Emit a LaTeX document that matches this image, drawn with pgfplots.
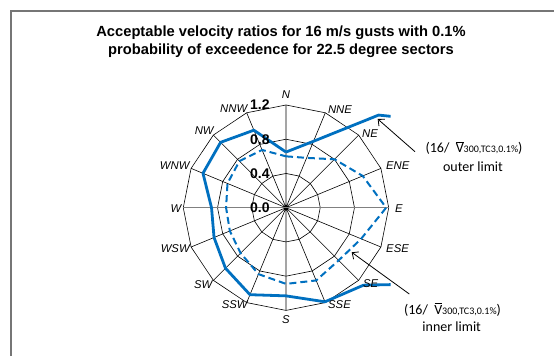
\documentclass[border=0pt]{standalone}
\usepackage{pgfplots}
\pgfplotsset{compat=1.18}
\usepackage{pgfplotstable}
\usepackage{fontspec}
\setmainfont{Liberation Sans}
\newfontfamily\calibri{Carlito}
\usetikzlibrary{arrows.meta}
\definecolor{xlblue}{HTML}{0070C0}
\definecolor{framegray}{HTML}{767676}
\newcommand{\vbar}{\makebox[0pt][l]{\hspace{0.3pt}\raisebox{10.6pt}{\rule{7.6pt}{0.7pt}}}V}

% outer limit (solid)
\pgfplotstableread{
a r
0 0.65
22.5 0.84
45 1.53
67.5 2.5
90 2.4
112.5 2.3
135 1.28
157.5 1.19
180 1.03
202.5 1.10
225 1.00
247.5 0.91
270 0.87
292.5 1.05
315 1.08
337.5 0.98
360 0.65
}\outerdata

% inner limit (dashed)
\pgfplotstableread{
a r
0 0.60
22.5 0.63
45 0.80
67.5 0.97
90 1.17
112.5 0.95
135 0.87
157.5 0.92
180 0.89
202.5 0.84
225 0.75
247.5 0.71
270 0.70
292.5 0.74
315 0.77
337.5 0.73
360 0.60
}\innerdata

% grid ring angles (unit radius)
\pgfplotstableread{
a r
0 1
22.5 1
45 1
67.5 1
90 1
112.5 1
135 1
157.5 1
180 1
202.5 1
225 1
247.5 1
270 1
292.5 1
315 1
337.5 1
360 1
}\ringdata

% spokes (star path)
\pgfplotstableread{
a r
0 1.2
0 0
22.5 1.2
22.5 0
45 1.2
45 0
67.5 1.2
67.5 0
90 1.2
90 0
112.5 1.2
112.5 0
135 1.2
135 0
157.5 1.2
157.5 0
180 1.2
180 0
202.5 1.2
202.5 0
225 1.2
225 0
247.5 1.2
247.5 0
270 1.2
270 0
292.5 1.2
292.5 0
315 1.2
315 0
337.5 1.2
337.5 0
}\spokedata

\begin{document}
\begin{tikzpicture}[x=1pt,y=1pt]
\draw[framegray, line width=1.5pt] (11,0) -- (11,345) -- (554,345);
\node[font=\bfseries\fontsize{14.7}{18}\selectfont, align=center] at (281,314)
  {Acceptable velocity ratios for 16 m/s gusts with 0.1\%\\probability of exceedence for 22.5 degree sectors};
\begin{axis}[
  at={(161.88pt,24.18pt)}, anchor=south west,
  x=85.6pt, y=85.6pt,
  xmin=-1.45, xmax=1.223, ymin=-1.45, ymax=1.45,
  hide axis, clip mode=individual,
]
\addplot[black, line width=0.6pt, no marks] table[x expr={0.4*\thisrow{r}*sin(\thisrow{a})}, y expr={0.4*\thisrow{r}*cos(\thisrow{a})}] \ringdata;
\addplot[black, line width=0.6pt, no marks] table[x expr={0.8*\thisrow{r}*sin(\thisrow{a})}, y expr={0.8*\thisrow{r}*cos(\thisrow{a})}] \ringdata;
\addplot[black, line width=0.6pt, no marks] table[x expr={1.2*\thisrow{r}*sin(\thisrow{a})}, y expr={1.2*\thisrow{r}*cos(\thisrow{a})}] \ringdata;
\addplot[black, line width=0.6pt, no marks] table[x expr={\thisrow{r}*sin(\thisrow{a})}, y expr={\thisrow{r}*cos(\thisrow{a})}] \spokedata;
\addplot[gray, line width=1.3pt, no marks] coordinates {(-1.2,0) (1.2,0)};

\addplot[xlblue, line width=2pt, dash pattern=on 7pt off 4pt, no marks] table[x expr={\thisrow{r}*sin(\thisrow{a})}, y expr={\thisrow{r}*cos(\thisrow{a})}] \innerdata;
\addplot[xlblue, line width=2.8pt, no marks, line join=round] table[x expr={\thisrow{r}*sin(\thisrow{a})}, y expr={\thisrow{r}*cos(\thisrow{a})}] \outerdata;

\begin{scope}[every node/.style={font=\itshape\fontsize{11.3}{12}\selectfont, inner sep=0pt, anchor=center}]
\node at (axis cs:0,1.317) {N};
\node at (axis cs:0.631,1.150) {NNE};
\node at (axis cs:0.981,0.869) {NE};
\node at (axis cs:1.305,0.487) {ENE};
\node at (axis cs:1.318,-0.007) {E};
\node at (axis cs:1.303,-0.474) {ESE};
\node at (axis cs:0.989,-0.891) {SE};
\node at (axis cs:0.625,-1.137) {SSE};
\node at (axis cs:0,-1.312) {S};
\node at (axis cs:-0.599,-1.137) {SSW};
\node at (axis cs:-0.966,-0.903) {SW};
\node at (axis cs:-1.294,-0.482) {WSW};
\node at (axis cs:-1.287,-0.007) {W};
\node at (axis cs:-1.300,0.487) {WNW};
\node at (axis cs:-0.956,0.900) {NW};
\node at (axis cs:-0.611,1.153) {NNW};
\end{scope}
\begin{scope}[every node/.style={font=\bfseries\fontsize{14}{14}\selectfont, inner sep=0pt, anchor=east}]
\node at (axis cs:-0.19,1.2) {1.2};
\node at (axis cs:-0.19,0.8) {0.8};
\node at (axis cs:-0.19,0.4) {0.4};
\node at (axis cs:-0.19,0.0) {0.0};
\end{scope}
\end{axis}
% annotations
\draw[line width=0.8pt, -{Straight Barb[length=5pt,width=9pt]}] (415,204.3) -- (377.7,237);
\node[font=\calibri\fontsize{14}{14}\selectfont] at (474,207.7)
  {(16/\hspace{0.45em}\vbar{\fontsize{10}{10}\selectfont 300,TC3,0.1\%})};
\node[font=\calibri\fontsize{14}{14}\selectfont] at (473,189.3) {outer limit};
\draw[line width=0.8pt, -{Straight Barb[length=5pt,width=9pt]}] (409.3,62) -- (351.7,103.7);
\node[font=\calibri\fontsize{14}{14}\selectfont] at (452.5,46)
  {(16/\hspace{0.45em}\vbar{\fontsize{10}{10}\selectfont 300,TC3,0.1\%})};
\node[font=\calibri\fontsize{14}{14}\selectfont] at (451.7,29.3) {inner limit};
\pgfresetboundingbox
\path[use as bounding box] (0,0) rectangle (554,356);
\end{tikzpicture}
\end{document}
